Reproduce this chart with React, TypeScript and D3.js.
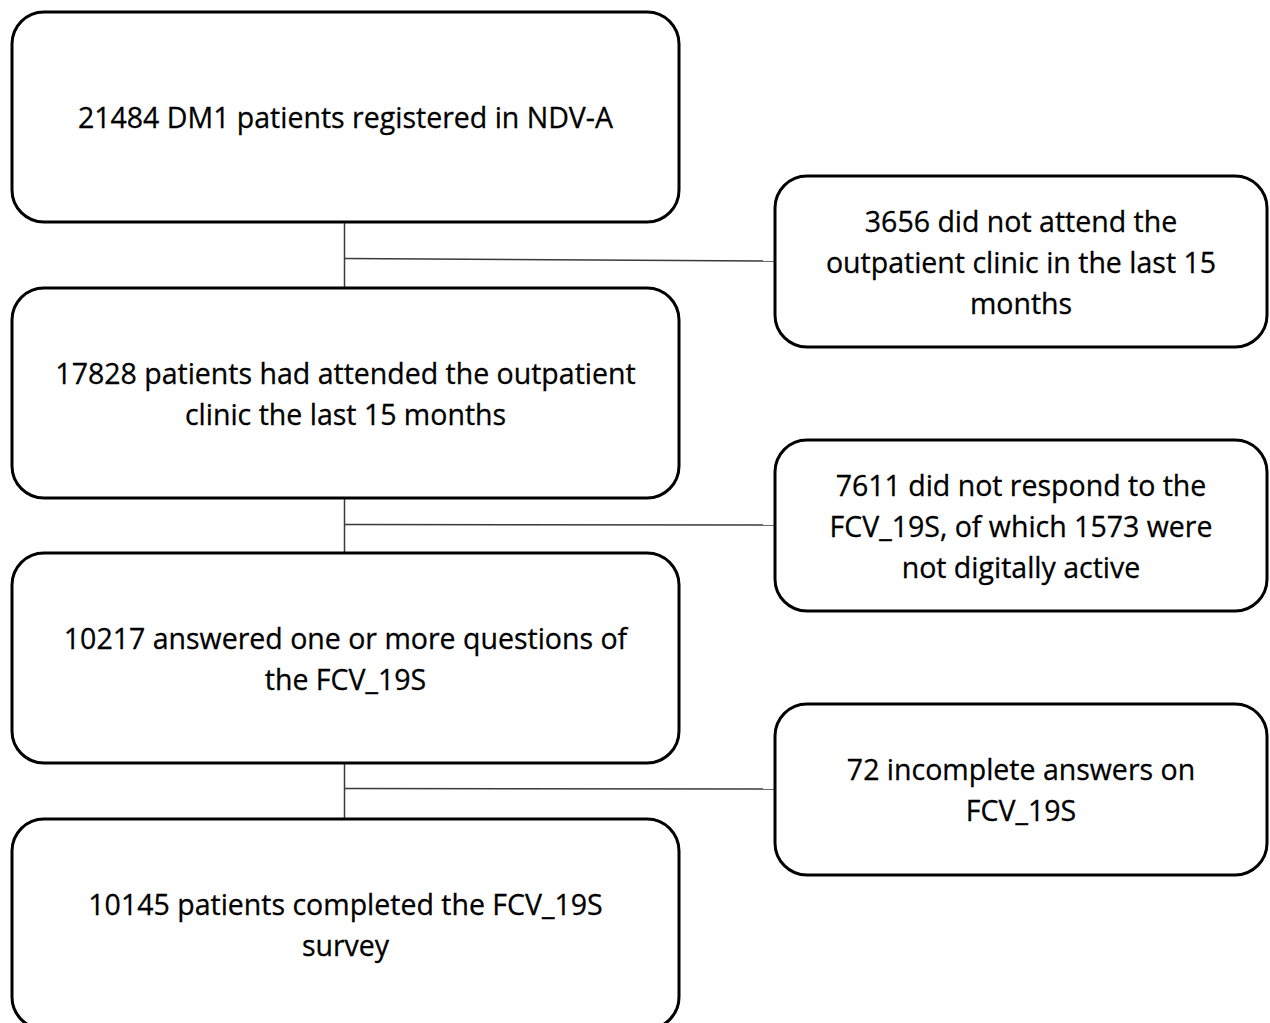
import React, { useEffect, useRef } from 'react';
import * as d3 from 'd3';

const mainSteps: string[][] = [
  ['21484 DM1 patients registered in NDV-A'],
  ['17828 patients had attended the outpatient', 'clinic the last 15 months'],
  ['10217 answered one or more questions of', 'the FCV_19S'],
  ['10145 patients completed the FCV_19S', 'survey'],
];

const exclusions: string[][] = [
  ['3656 did not attend the', 'outpatient clinic in the last 15', 'months'],
  ['7611 did not respond to the', 'FCV_19S, of which 1573 were', 'not digitally active'],
  ['72 incomplete answers on', 'FCV_19S'],
];

const W = 1270;
const H = 1023;

const App: React.FC = () => {
  const svgRef = useRef<SVGSVGElement>(null);

  useEffect(() => {
    if (!svgRef.current) return;
    const svg = d3.select(svgRef.current);
    svg.selectAll('*').remove();

    const font = '"Open Sans", "Liberation Sans", sans-serif';
    const fontSize = 28.5;
    const lineH = 41;

    // left column layout
    const left = { x: 12, w: 667, h: 210 };
    const yLeft = d3.scaleOrdinal<number, number>().domain([0, 1, 2, 3]).range([12, 288, 553, 819]);
    // right column layout
    const right = { x: 775, w: 492, h: 171 };
    const yRight = d3.scaleLinear().domain([0, 2]).range([176, 704]);

    const spineX = left.x + left.w / 2 - 1;

    // connectors
    const conn = svg.append('g')
      .attr('stroke', '#3a3a3a')
      .attr('stroke-width', 1.5)
      .attr('fill', 'none');

    exclusions.forEach((_, i) => {
      const top = yLeft(i) + left.h;
      const bottom = yLeft(i + 1);
      conn.append('line')
        .attr('x1', spineX).attr('x2', spineX)
        .attr('y1', top).attr('y2', bottom);
      const ry = yRight(i) + right.h / 2;
      conn.append('line')
        .attr('x1', spineX).attr('x2', right.x)
        .attr('y1', i === 0 ? ry - 3 : ry - 1).attr('y2', ry - 0.5);
    });

    const drawBox = (x: number, y: number, w: number, h: number, lines: string[]) => {
      const g = svg.append('g');
      g.append('rect')
        .attr('x', x).attr('y', y)
        .attr('width', w).attr('height', h)
        .attr('rx', 32).attr('ry', 32)
        .attr('fill', '#fff')
        .attr('stroke', '#000')
        .attr('stroke-width', 3);
      const cy = y + h / 2 - ((lines.length - 1) * lineH) / 2;
      g.selectAll('text')
        .data(lines)
        .enter().append('text')
        .attr('x', x + w / 2)
        .attr('y', (_, j) => cy + j * lineH)
        .attr('text-anchor', 'middle')
        .attr('dominant-baseline', 'central')
        .attr('font-family', font)
        .attr('font-size', fontSize)
        .attr('fill', '#000')
        .attr('stroke', '#000')
        .attr('stroke-width', 0.3)
        .text(d => d);
    };

    mainSteps.forEach((lines, i) => drawBox(left.x, yLeft(i), left.w, left.h, lines));
    exclusions.forEach((lines, i) => drawBox(right.x, yRight(i), right.w, right.h, lines));
  }, []);

  return (
    <svg
      ref={svgRef}
      width={W}
      height={H}
      style={{ position: 'absolute', left: 0, top: 0, background: '#fff' }}
    ></svg>
  );
};

export default App;
